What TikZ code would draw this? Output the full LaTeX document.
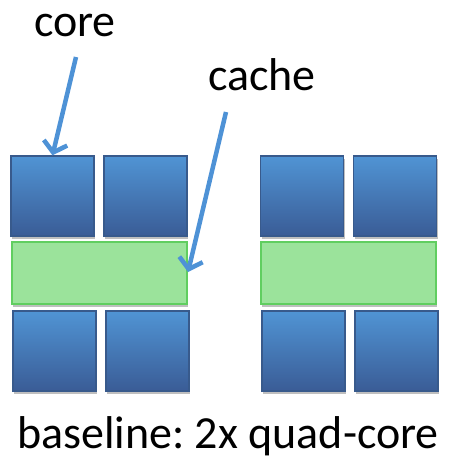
\documentclass[tikz,border=0pt]{standalone}
\usepackage{fontspec}
\setmainfont{Carlito}
\usetikzlibrary{arrows.meta,shadows}
\definecolor{blueTop}{RGB}{80,148,212}
\definecolor{blueBot}{RGB}{58,92,150}
\definecolor{blueEdge}{RGB}{56,90,140}
\definecolor{greenFill}{RGB}{155,227,155}
\definecolor{greenEdge}{RGB}{96,206,96}
\definecolor{arrowBlue}{RGB}{78,146,214}
\frenchspacing
\tikzset{
  corebox/.style={draw=blueEdge, line width=1.3pt, top color=blueTop, bottom color=blueBot,
    minimum width=83pt, minimum height=80pt, inner sep=0pt,
    drop shadow={shadow xshift=1pt, shadow yshift=-3pt, opacity=0.25, fill=black}},
  cachebox/.style={draw=greenEdge, line width=2pt, fill=greenFill,
    minimum width=175pt, minimum height=62pt, inner sep=0pt,
    drop shadow={shadow xshift=1pt, shadow yshift=-3pt, opacity=0.25, fill=black}},
  lbl/.style={font=\fontsize{46}{50}\selectfont, anchor=base, inner sep=0pt},
  pointer/.style={draw=arrowBlue, line width=4.5pt, -{Straight Barb[length=10pt,width=24pt,line width=4.5pt]}}
}
\begin{document}
\begin{tikzpicture}[x=1pt,y=-1pt]
\useasboundingbox (0,0) rectangle (452,462);
% left group
\node[corebox] (l1) at (52.5,196) {};
\node[corebox] (l2) at (145.5,196) {};
\node[cachebox] (lc) at (99.5,273) {};
\node[corebox] (l3) at (54.5,351) {};
\node[corebox] (l4) at (147.5,351) {};
% right group
\node[corebox] (r1) at (302,196) {};
\node[corebox] (r2) at (395,196) {};
\node[cachebox] (rc) at (348.5,273) {};
\node[corebox] (r3) at (303.5,351) {};
\node[corebox] (r4) at (396.5,351) {};
% labels
\node[lbl] (corelbl) at (75,37) {core};
\node[lbl] (cachelbl) at (262,91) {cache};
\node[lbl] (caption) at (228,448) {baseline: 2x quad-core};
% pointers
\coordinate (cs) at (76,57);
\coordinate (ks) at (226,112);
\draw[pointer] (cs) -- (l1.north);
\draw[pointer] (ks) -- ([yshift=1pt]lc.east);
\end{tikzpicture}
\end{document}
